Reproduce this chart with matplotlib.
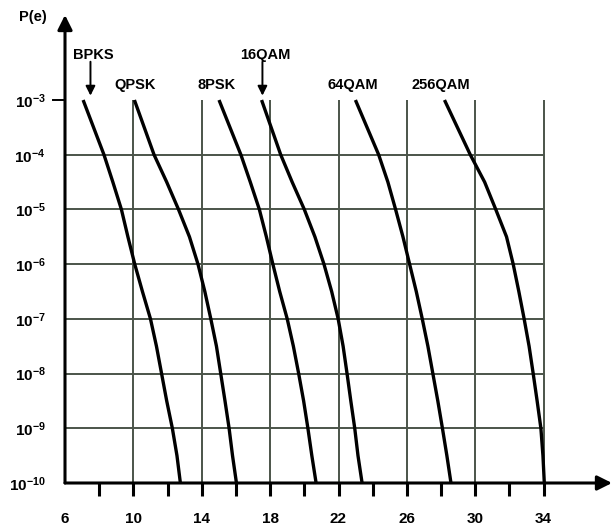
import numpy as np
import matplotlib.pyplot as plt

plt.rcParams['font.family'] = ['Liberation Sans', 'DejaVu Sans']
plt.rcParams['font.weight'] = 'bold'
plt.rcParams['mathtext.fontset'] = 'custom'
plt.rcParams['mathtext.rm'] = 'Liberation Sans:bold'
plt.rcParams['mathtext.default'] = 'rm'

# log10 of error probability where each curve was read
log_pe = [-3, -4, -4.5, -5, -5.5, -6, -6.5, -7, -7.5, -8, -8.5, -9, -9.5, -10]

# Eb/N0 (dB) read at each level
bpsk = [7.06, 8.28, 8.80, 9.30, 9.68, 10.08, 10.53, 11.0, 11.35, 11.65, 11.95, 12.28, 12.55, 12.75]
qpsk = [10.06, 11.21, 11.95, 12.64, 13.28, 13.78, 14.18, 14.53, 14.86, 15.11, 15.36, 15.6, 15.8, 16.03]
psk8 = [15.01, 16.29, 16.84, 17.37, 17.78, 18.16, 18.56, 19.0, 19.36, 19.67, 19.96, 20.21, 20.44, 20.69]
qam16 = [17.5, 18.62, 19.29, 20.0, 20.62, 21.15, 21.6, 21.98, 22.27, 22.5, 22.72, 22.95, 23.14, 23.38]
qam64 = [22.99, 24.35, 24.89, 25.34, 25.77, 26.16, 26.55, 26.9, 27.23, 27.52, 27.81, 28.08, 28.34, 28.58]
qam256 = [28.2, 29.71, 30.55, 31.2, 31.83, 32.22, 32.55, 32.86, 33.15, 33.39, 33.62, 33.84, 33.96, 34.04]

curves = [bpsk, qpsk, psk8, qam16, qam64, qam256]
names = ['BPKS', 'QPSK', '8PSK', '16QAM', '64QAM', '256QAM']
label_x = [7.64, 10.09, 14.89, 17.7, 22.84, 27.99]
label_high = [True, False, False, True, False, False]

x_ticks = [8, 10, 12, 14, 16, 18, 20, 22, 24, 26, 28, 30, 32, 34]
x_labels = [6, 10, 14, 18, 22, 26, 30, 34]
grid_x = [10, 14, 18, 22, 26, 30, 34]
grid_y = [1e-4, 1e-5, 1e-6, 1e-7, 1e-8, 1e-9]
y_ticks = [1e-3, 1e-4, 1e-5, 1e-6, 1e-7, 1e-8, 1e-9, 1e-10]

pe = [10.0 ** v for v in log_pe]

fig = plt.figure(figsize=(6.14, 5.29), dpi=100)
ax = fig.add_axes([65 / 614, 46 / 529, 547 / 614, 468 / 529])
ax.set_yscale('log')
ax.set_xlim(6, 38)
ax.set_ylim(1e-10, 10 ** -1.446)
for s in ax.spines.values():
    s.set_visible(False)

gcol = '#4b5449'
ax.hlines(grid_y, 6, 34, color=gcol, lw=1.4, zorder=1)
ax.vlines(grid_x, 1e-10, 1e-3, color=gcol, lw=1.4, zorder=1)

for c in curves:
    ax.plot(c, pe, color='black', lw=2.4, solid_capstyle='butt', solid_joinstyle='round', zorder=3)

# axes with arrows
ax.annotate('', xy=(0, 1), xytext=(0, 0), xycoords='axes fraction',
            arrowprops=dict(arrowstyle='-|>', lw=2.2, color='black', mutation_scale=22, shrinkA=0, shrinkB=0))
ax.annotate('', xy=(1, 0), xytext=(0, 0), xycoords='axes fraction',
            arrowprops=dict(arrowstyle='-|>', lw=2.2, color='black', mutation_scale=22, shrinkA=0, shrinkB=0))

ax.set_xticks(x_ticks)
ax.set_xticklabels([str(t) if t in x_labels else '' for t in x_ticks])
ax.set_xticks([6], minor=True)
ax.set_xticklabels(['6'], minor=True)
ax.tick_params(axis='x', which='major', length=9, width=2.2, direction='out', pad=12, labelsize=11)
ax.tick_params(axis='x', which='minor', length=0, pad=21, labelsize=11)
ax.set_yticks(y_ticks)
ax.set_yticklabels([r'$10^{%d}$' % int(np.log10(v)) for v in y_ticks])
ax.yaxis.set_minor_locator(plt.NullLocator())
ax.tick_params(axis='y', length=0, pad=14, labelsize=11)
ax.plot([5.3, 5.9], [1e-3, 1e-3], color='black', lw=1.4, clip_on=False)

for nm, lx, hi in zip(names, label_x, label_high):
    if hi:
        ax.text(lx, 10 ** -2.18, nm, ha='center', va='center', fontsize=10.5, fontweight='bold')
        ax.annotate('', xy=(lx - 0.15, 10 ** -2.92), xytext=(lx - 0.15, 10 ** -2.3),
                    arrowprops=dict(arrowstyle='-|>', lw=1.4, color='black', mutation_scale=14, shrinkA=0, shrinkB=0))
    else:
        ax.text(lx, 10 ** -2.73, nm, ha='center', va='center', fontsize=10.5, fontweight='bold')

ax.text(4.13, 10 ** -1.48, 'P(e)', ha='center', va='center', fontsize=10.5, fontweight='bold')

fig.savefig('out.png', dpi=100)
